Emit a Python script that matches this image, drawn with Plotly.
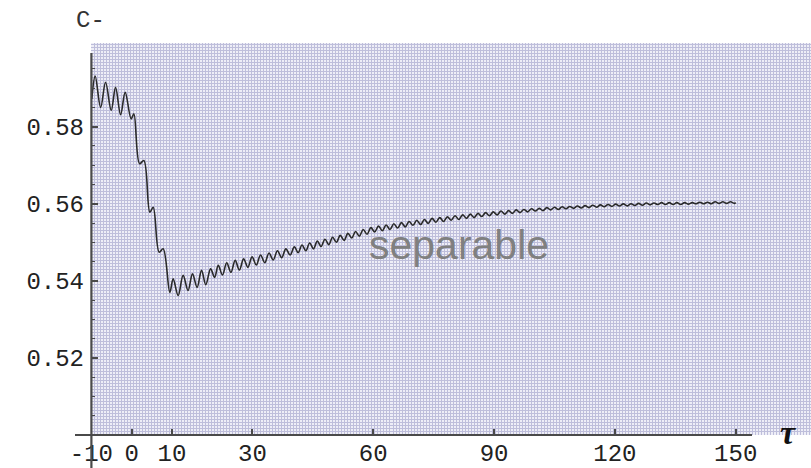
import plotly.graph_objects as go

# ---- data (extrema of the oscillating curve) ----
tau = [-9.9, -9.06, -7.7, -6.48, -5.08, -4.0, -2.75, -1.61, -0.12, 0.55,
       1.96, 3.03, 4.52, 5.34, 6.83, 7.82, 9.48, 10.3, 11.54, 12.78,
       14.0, 15.1, 16.25, 17.35, 18.4, 19.6, 20.6, 21.5,
       22.55, 23.6, 24.65, 25.7, 26.75, 27.8, 28.85, 29.9, 30.95, 32.0, 33.05, 34.1, 35.15, 36.2, 37.25, 38.3, 39.35, 40.4,
       41.35, 42.3, 43.25, 44.2, 45.15, 46.1, 47.05, 48.0, 48.95, 49.9,
       50.85, 51.8, 52.75, 53.7, 54.65, 55.6, 56.55, 57.5, 58.45, 59.4,
       60.35, 61.3, 62.25, 63.2, 64.15, 65.1, 66.05, 67.0, 67.95, 68.9,
       69.85, 70.8, 71.75, 72.7, 73.65, 74.6, 75.55, 76.5, 77.45, 78.4,
       79.35, 80.3, 81.25, 82.2, 83.15, 84.1, 85.05, 86.0, 86.95, 87.9,
       88.85, 89.8, 90.75, 91.7, 92.65, 93.6, 94.55, 95.5, 96.45, 97.4,
       98.35, 99.3, 100.25, 101.2, 102.15, 103.1, 104.05, 105.0, 105.95, 106.9,
       107.85, 108.8, 109.75, 110.7, 111.65, 112.6, 113.55, 114.5, 115.45, 116.4,
       117.35, 118.3, 119.25, 120.2, 121.15, 122.1, 123.05, 124.0, 124.95, 125.9,
       126.85, 127.8, 128.75, 129.7, 130.65, 131.6, 132.55, 133.5, 134.45, 135.4,
       136.35, 137.3, 138.25, 139.2, 140.15, 141.1, 142.05, 143.0, 143.95, 144.9,
       145.85, 146.8, 147.75, 148.7, 149.65, 150.0]

c_minus = [0.5872, 0.5931, 0.5850, 0.5915, 0.5842, 0.5902, 0.5831, 0.5889, 0.5820, 0.5833,
           0.5704, 0.5712, 0.5578, 0.5591, 0.5474, 0.5483, 0.5370, 0.5405, 0.5362, 0.5414,
           0.5375, 0.5418, 0.5383, 0.5427, 0.5390, 0.5431, 0.5409, 0.5440,
           0.5415, 0.5447, 0.5422, 0.5453, 0.5428, 0.5457, 0.5435, 0.5462, 0.5441, 0.5467, 0.5447, 0.5472, 0.5454, 0.5478, 0.5460, 0.5483, 0.5467, 0.5488,
           0.5473, 0.5493, 0.5478, 0.5498, 0.5483, 0.5503, 0.5489, 0.5508, 0.5494, 0.5513,
           0.5500, 0.5518, 0.5505, 0.5523, 0.5511, 0.5528, 0.5516, 0.5533, 0.5521, 0.5538,
           0.5527, 0.5542, 0.5530, 0.5545, 0.5533, 0.5548, 0.5537, 0.5551, 0.5540, 0.5554,
           0.5544, 0.5557, 0.5546, 0.5559, 0.5549, 0.5562, 0.5552, 0.5564, 0.5554, 0.5566,
           0.5557, 0.5569, 0.5559, 0.5571, 0.5562, 0.5573, 0.5564, 0.5575, 0.5567, 0.5577,
           0.5569, 0.5579, 0.5571, 0.5581, 0.5573, 0.5582, 0.5575, 0.5584, 0.5577, 0.5585,
           0.5579, 0.5587, 0.5581, 0.5588, 0.5582, 0.5590, 0.5584, 0.5591, 0.5585, 0.5592,
           0.5587, 0.5593, 0.5588, 0.5594, 0.5589, 0.5595, 0.5590, 0.5596, 0.5591, 0.5597,
           0.5592, 0.5598, 0.5593, 0.5599, 0.5594, 0.55995, 0.55945, 0.5600, 0.55955, 0.5601,
           0.5596, 0.5602, 0.5597, 0.5602, 0.5598, 0.5603, 0.5598, 0.5603, 0.5598, 0.5603,
           0.5598, 0.5603, 0.5599, 0.5603, 0.5600, 0.5604, 0.5600, 0.5604, 0.5600, 0.5605,
           0.5601, 0.5605, 0.5601, 0.5605, 0.5601, 0.5603]

x_tickvals = [-10, 0, 10, 30, 60, 90, 120, 150]
x_ticktext = ["-10", "0", "10", "30", "60", "90", "120", "150"]
y_tickvals = [0.52, 0.54, 0.56, 0.58]
y_ticktext = ["0.52", "0.54", "0.56", "0.58"]
y_minor = [0.505, 0.51, 0.515, 0.525, 0.53, 0.535, 0.545, 0.55, 0.555,
           0.565, 0.57, 0.575, 0.585, 0.59, 0.595]

# ---- layout geometry ----
W, H = 811, 468
ML, MR, MT, MB = 91, 0, 43, 33
XR = [-10.1, 168.7]
YR = [0.5, 0.6017]
PW, PH = W - ML - MR, H - MT - MB

def px_to_paper_x(px):
    return (px - ML) / PW

def px_to_paper_y(py):
    return (H - MB - py) / PH

mono = "Liberation Mono, Courier New, monospace"
axis_col = "#4a4a4a"

fig = go.Figure()
# dummy trace so the base (grid) subplot is drawn
fig.add_trace(go.Scatter(x=[None], y=[None], xaxis="x", yaxis="y",
                         showlegend=False, hoverinfo="skip"))
fig.add_trace(go.Scatter(x=tau, y=c_minus, xaxis="x2", yaxis="y2",
                         mode="lines", line=dict(color="#2a2a2a", width=1.6,
                                                 shape="spline", smoothing=1.0),
                         showlegend=False))

fig.update_layout(
    width=W, height=H, margin=dict(l=ML, r=MR, t=MT, b=MB),
    paper_bgcolor="white", plot_bgcolor="#eeeef7",
    xaxis=dict(range=XR, showgrid=True, gridcolor="#bebedb", gridwidth=1,
               dtick=0.75, tick0=-10.1, showticklabels=False, ticks="",
               zeroline=False, showline=False),
    yaxis=dict(range=YR, showgrid=True, gridcolor="#bebedb", gridwidth=1,
               dtick=0.00078, tick0=0.5, showticklabels=False, ticks="",
               zeroline=False, showline=False),
    xaxis2=dict(range=XR, overlaying="x", anchor="y2", side="bottom",
                showgrid=False, zeroline=False, showline=False,
                tickmode="array", tickvals=x_tickvals, ticktext=x_ticktext,
                ticks="inside", ticklen=6, tickwidth=1.5, tickcolor=axis_col,
                tickfont=dict(family=mono, size=24, color="#222"),
                ticklabelstandoff=1),
    yaxis2=dict(range=YR, overlaying="y", anchor="x2", side="left",
                showgrid=False, zeroline=False, showline=False,
                tickmode="array", tickvals=y_tickvals, ticktext=y_ticktext,
                ticks="inside", ticklen=7, tickwidth=1.5, tickcolor=axis_col,
                minor=dict(tickmode="array", tickvals=y_minor, ticks="inside",
                           ticklen=4, tickwidth=1.2, tickcolor=axis_col),
                tickfont=dict(family=mono, size=24, color="#222"),
                ticklabelstandoff=6),
)

x_of_m10 = (-10 - XR[0]) / (XR[1] - XR[0])
fig.add_shape(type="line", xref="paper", yref="paper",
              x0=px_to_paper_x(75), x1=px_to_paper_x(752), y0=0, y1=0,
              line=dict(color=axis_col, width=2.2))
fig.add_shape(type="line", xref="paper", yref="paper",
              x0=x_of_m10, x1=x_of_m10, y0=px_to_paper_y(468), y1=px_to_paper_y(53),
              line=dict(color=axis_col, width=2.2))

fig.add_annotation(text="C-", xref="paper", yref="paper",
                   x=px_to_paper_x(74), y=px_to_paper_y(20),
                   xanchor="left", yanchor="middle", showarrow=False,
                   font=dict(family=mono, size=24, color="#333"))
fig.add_annotation(text="τ", xref="paper", yref="paper",
                   x=px_to_paper_x(788), y=px_to_paper_y(432),
                   xanchor="center", yanchor="middle", showarrow=False,
                   font=dict(family="Liberation Serif, serif", size=34,
                             color="#111", style="italic", weight="bold"))
fig.add_annotation(text="separable", xref="paper", yref="paper",
                   x=px_to_paper_x(459), y=px_to_paper_y(245),
                   xanchor="center", yanchor="middle", showarrow=False,
                   font=dict(family="Liberation Sans, Arial, sans-serif",
                             size=41, color="#808080"))

fig.write_html("out.html")
